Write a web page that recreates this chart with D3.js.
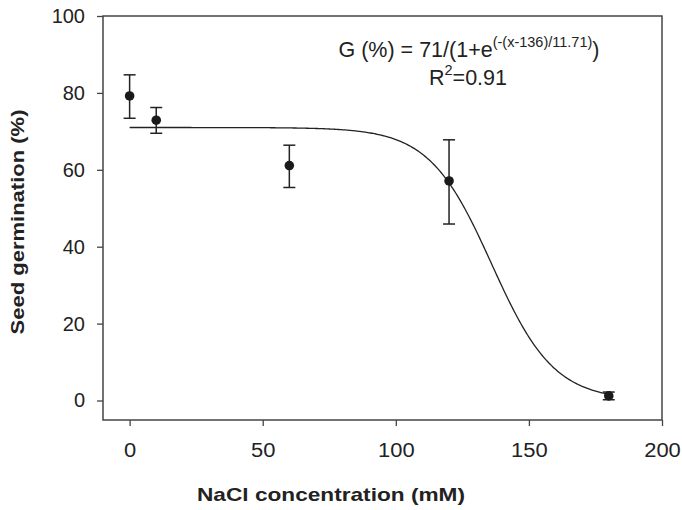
<!DOCTYPE html>
<html>
<head>
<meta charset="utf-8">
<script src="https://cdn.jsdelivr.net/npm/d3@7"></script>
<style>
body{margin:0;background:#fff;}
text{font-family:"Liberation Sans",Arial,sans-serif;fill:#222;}
</style>
</head>
<body>
<svg id="chart" width="682" height="510"></svg>
<script>
const concentrations = [0, 10, 60, 120, 180];
const germination = [79.2, 72.9, 61.1, 57.1, 1.2];
const errLow = [73.4, 69.5, 55.4, 45.9, 0.2];
const errHigh = [84.7, 76.2, 66.4, 67.8, 2.2];
const xTicks = [0, 50, 100, 150, 200];
const yTicks = [0, 20, 40, 60, 80, 100];
const fitA = 71, fitX0 = 136, fitB = 11.71;

const svg = d3.select("#chart");
const L = 103, R = 662, T = 16, B = 420;
const x = d3.scaleLinear().domain([-10, 200]).range([L, R]);
const y = d3.scaleLinear().domain([-5.07, 100]).range([B, T]);
const axisColor = "#444";

// frame
svg.append("rect").attr("x", L).attr("y", T).attr("width", R - L).attr("height", B - T)
  .attr("fill", "none").attr("stroke", axisColor).attr("stroke-width", 1.5);

const xAxis = svg.append("g").attr("transform", `translate(0,${B})`)
  .call(d3.axisBottom(x).tickValues(xTicks).tickSize(6).tickFormat(d3.format("d")));
const yAxis = svg.append("g").attr("transform", `translate(${L},0)`)
  .call(d3.axisLeft(y).tickValues(yTicks).tickSize(6).tickPadding(12).tickFormat(d3.format("d")));
[xAxis, yAxis].forEach(g => {
  g.select(".domain").remove();
  g.selectAll("line").attr("stroke", axisColor).attr("stroke-width", 1.3);
  g.selectAll("text").attr("font-size", 20).attr("fill", "#222")
    .attr("font-family", '"Liberation Sans",Arial,sans-serif');
});
xAxis.selectAll("text").attr("dy", null).attr("y", 37)
  .attr("textLength", d => String(d).length * 12.2).attr("lengthAdjust", "spacingAndGlyphs");

// fitted curve
const curveX = d3.range(0, 180.5, 0.5);
const line = d3.line().x(d => x(d)).y(d => y(fitA / (1 + Math.exp((d - fitX0) / fitB))));
svg.append("path").datum(curveX).attr("d", line).attr("fill", "none")
  .attr("stroke", "#222").attr("stroke-width", 1.3);

// error bars
const cap = 6;
const eb = svg.append("g").attr("stroke", "#222").attr("stroke-width", 1.5);
concentrations.forEach((c, i) => {
  const cx = x(c);
  eb.append("line").attr("x1", cx).attr("x2", cx).attr("y1", y(errLow[i])).attr("y2", y(errHigh[i]));
  eb.append("line").attr("x1", cx - cap).attr("x2", cx + cap).attr("y1", y(errLow[i])).attr("y2", y(errLow[i]));
  eb.append("line").attr("x1", cx - cap).attr("x2", cx + cap).attr("y1", y(errHigh[i])).attr("y2", y(errHigh[i]));
});

// points
svg.append("g").selectAll("circle").data(concentrations).join("circle")
  .attr("cx", d => x(d)).attr("cy", (d, i) => y(germination[i])).attr("r", 4.8).attr("fill", "#1a1a1a");

// annotation
const eq = svg.append("text").attr("x", 469).attr("y", 57).attr("text-anchor", "middle").attr("font-size", 21.5);
eq.append("tspan").text("G (%) = 71/(1+e");
eq.append("tspan").attr("dy", -10).attr("font-size", 14.5).text("(-(x-136)/11.71)");
eq.append("tspan").attr("dy", 10).text(")");
const r2 = svg.append("text").attr("x", 468).attr("y", 85).attr("text-anchor", "middle").attr("font-size", 21.5);
r2.append("tspan").text("R");
r2.append("tspan").attr("dy", -10).attr("font-size", 14.5).text("2");
r2.append("tspan").attr("dy", 10).text("=0.91");

// axis titles
svg.append("text").attr("x", 331).attr("y", 501).attr("text-anchor", "middle")
  .attr("font-size", 19).attr("font-weight", "bold")
  .attr("textLength", 268).attr("lengthAdjust", "spacingAndGlyphs").text("NaCl concentration (mM)");
svg.append("text").attr("transform", "translate(24,222) rotate(-90)").attr("text-anchor", "middle")
  .attr("font-size", 19).attr("font-weight", "bold")
  .attr("textLength", 225).attr("lengthAdjust", "spacingAndGlyphs").text("Seed germination (%)");
</script>
</body>
</html>
